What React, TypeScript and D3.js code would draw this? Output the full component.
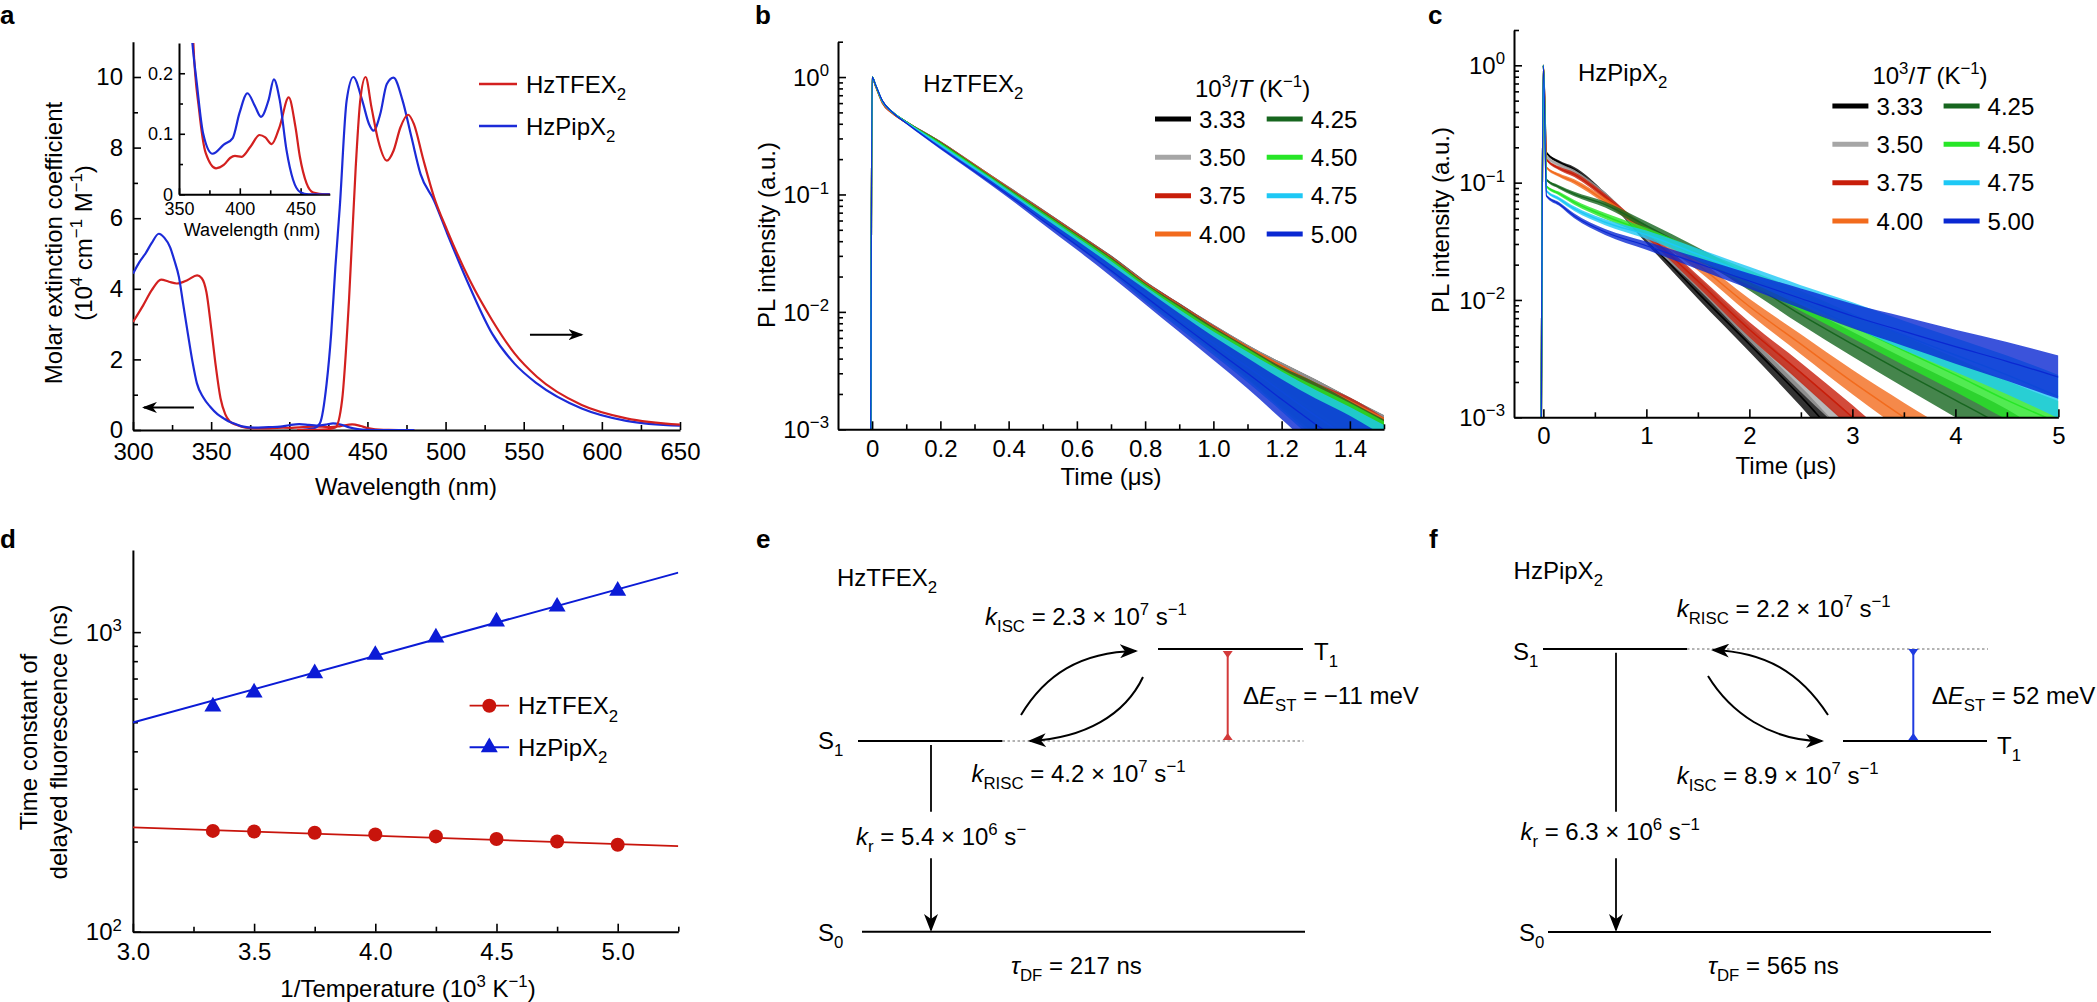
import React, { useEffect, useRef } from "react";
import * as d3 from "d3";

const W = 2097;
const H = 1002;
const FONT = '"Liberation Sans", Arial, Helvetica, sans-serif';
const FS = 24;
const RED = "#d3201f";
const BLUE = "#1c2bd8";

// ---------- a: absorption (10^4 M^-1 cm^-1) and emission (normalised, peak = 10)
const absTFEX: [number, number][] = [
  [300, 3.06], [306.5, 3.53], [312, 3.96], [318, 4.26], [323, 4.2], [328, 4.15],
  [335, 4.25], [341, 4.38], [344, 4.3], [347, 3.9], [350, 2.9], [353, 1.8],
  [356, 0.9], [359, 0.45], [361.8, 0.25], [366.5, 0.14], [372, 0.068], [380.5, 0.043],
  [386.8, 0.0485], [392, 0.06], [396, 0.0635], [401.5, 0.062], [408.9, 0.079],
  [416.2, 0.098], [421, 0.094], [426.2, 0.083], [432.8, 0.112], [440.2, 0.16],
  [445.7, 0.112], [449.4, 0.062], [454.9, 0.018], [460.4, 0.003], [470, 0], [480, 0],
];
const absPIP: [number, number][] = [
  [300, 4.43], [304, 4.75], [308, 5.0], [312, 5.3], [316.5, 5.56], [320, 5.45],
  [323.7, 5.18], [326.5, 4.8], [329.4, 4.33], [332, 3.6], [335.1, 2.73], [338, 1.95],
  [340.9, 1.32], [345, 0.92], [349.4, 0.66], [354, 0.45], [358, 0.33], [361, 0.25],
  [364.6, 0.184], [369.8, 0.101], [377.6, 0.067], [386.8, 0.082], [394.2, 0.093],
  [399.7, 0.134], [406.3, 0.167], [412.6, 0.145], [417.4, 0.128], [423.7, 0.156],
  [428, 0.19], [432.8, 0.156], [438.4, 0.073], [443.8, 0.024], [449.4, 0.004],
  [456.7, 0], [480, 0],
];
const emTFEX: [number, number][] = [
  [405, 0], [424, 0.02], [429.5, 0.07], [433.8, 0.85], [438.2, 3.67], [442.5, 7.44],
  [445.4, 9.33], [448.8, 10.0], [452.6, 9.14], [456.9, 8.2], [462.4, 7.63],
  [466.7, 7.91], [471.1, 8.57], [476, 8.93], [479.7, 8.67], [485.4, 7.72],
  [492.6, 6.6], [501.1, 5.65], [515.5, 4.24], [529.8, 3.11], [544.1, 2.17],
  [558.4, 1.51], [587.1, 0.71], [615.7, 0.33], [650, 0.15],
];
const emPIP: [number, number][] = [
  [405, 0], [416, 0.05], [419.6, 0.19], [423.9, 1.32], [426.8, 2.73], [429.5, 4.62],
  [432.3, 6.31], [436.7, 9.33], [441, 10.0], [446.7, 9.33], [451, 8.67], [453.9, 8.48],
  [458.2, 8.95], [462.4, 9.8], [466.7, 9.98], [472.5, 9.33], [478.2, 8.29], [484, 7.25],
  [492.6, 6.5], [501.1, 5.56], [515.5, 4.05], [529.8, 2.73], [544.1, 1.88],
  [558.4, 1.32], [587.1, 0.61], [615.7, 0.26], [650, 0.12],
];
// [wavelength, value] start and end of the two "which axis" arrows
const arrowsA = [
  { from: [339, 0.64], to: [307, 0.64] },
  { from: [554, 2.7], to: [587, 2.7] },
];

// ---------- b, c: transient PL
const tempLabels = ["3.33", "3.50", "3.75", "4.00", "4.25", "4.50", "4.75", "5.00"];
const tempColors = ["#000000", "#a6a6a6", "#c81e0a", "#f26b1d", "#17661f", "#27e627", "#1ec8f5", "#0a28d2"];

const timeB = [-0.004, 0, 0.01, 0.03, 0.06, 0.1, 0.2, 0.3, 0.4, 0.5, 0.6, 0.7, 0.8, 0.9, 1.0, 1.1, 1.2, 1.3, 1.4, 1.5];
const decayB = [
  [0.001, 1, 0.85, 0.62, 0.5, 0.415, 0.278, 0.176, 0.111, 0.07, 0.0435, 0.027, 0.0158, 0.0099, 0.0062, 0.0039, 0.0025, 0.0016, 0.001, 0.00063],
  [0.001, 1, 0.85, 0.62, 0.5, 0.415, 0.278, 0.176, 0.111, 0.0695, 0.0432, 0.0268, 0.0157, 0.0098, 0.0062, 0.0039, 0.0025, 0.0016, 0.001, 0.00063],
  [0.001, 1, 0.84, 0.6, 0.49, 0.41, 0.276, 0.175, 0.11, 0.069, 0.043, 0.0267, 0.0156, 0.0098, 0.0061, 0.0038, 0.0024, 0.0015, 0.001, 0.0006],
  [0.001, 1, 0.84, 0.61, 0.495, 0.412, 0.275, 0.174, 0.109, 0.068, 0.0425, 0.0263, 0.0154, 0.0096, 0.006, 0.0038, 0.0024, 0.0015, 0.00095, 0.0006],
  [0.001, 1, 0.85, 0.62, 0.5, 0.414, 0.274, 0.173, 0.108, 0.0675, 0.042, 0.026, 0.0152, 0.0095, 0.0059, 0.0037, 0.0023, 0.0015, 0.00093, 0.00058],
  [0.001, 1, 0.85, 0.62, 0.5, 0.413, 0.27, 0.17, 0.106, 0.066, 0.041, 0.0253, 0.0148, 0.0092, 0.0057, 0.0036, 0.0022, 0.0014, 0.0009, 0.00056],
  [0.001, 1, 0.86, 0.62, 0.5, 0.41, 0.262, 0.165, 0.103, 0.0635, 0.0395, 0.0242, 0.0142, 0.0087, 0.0054, 0.0034, 0.0021, 0.0013, 0.00083, 0.00052],
  [0.001, 1, 0.86, 0.63, 0.5, 0.405, 0.25, 0.157, 0.098, 0.06, 0.037, 0.0225, 0.0135, 0.0081, 0.0049, 0.003, 0.0018, 0.0011, 0.0007, 0.00042],
];
// half-width of the photon-counting noise band, in decades
const noiseB = [0, 0, 0, 0.004, 0.006, 0.008, 0.012, 0.016, 0.022, 0.03, 0.04, 0.05, 0.065, 0.08, 0.1, 0.13, 0.17, 0.22, 0.27, 0.32];

const timeC = [-0.02, 0, 0.03, 0.15, 0.3, 0.6, 1.0, 1.5, 2.0, 2.5, 3.0, 3.5, 4.0, 4.5, 5.0];
const decayC = [
  [0.001, 1, 0.18, 0.15, 0.13, 0.078, 0.033, 0.0115, 0.0042, 0.0015, 0.0005, 0.0002, 0.0001, 0.0001, 0.0001],
  [0.001, 1, 0.168, 0.142, 0.123, 0.078, 0.035, 0.014, 0.0052, 0.002, 0.0008, 0.0003, 0.0001, 0.0001, 0.0001],
  [0.001, 1, 0.158, 0.133, 0.117, 0.076, 0.037, 0.0145, 0.0056, 0.0024, 0.001, 0.0004, 0.0002, 0.0001, 0.0001],
  [0.001, 1, 0.135, 0.116, 0.102, 0.07, 0.04, 0.02, 0.0088, 0.0042, 0.002, 0.001, 0.0005, 0.0002, 0.0001],
  [0.001, 1, 0.106, 0.092, 0.08, 0.065, 0.043, 0.025, 0.014, 0.0075, 0.0042, 0.0024, 0.0014, 0.0008, 0.0004],
  [0.001, 1, 0.093, 0.081, 0.068, 0.052, 0.038, 0.024, 0.0155, 0.0098, 0.006, 0.0037, 0.0023, 0.0014, 0.0009],
  [0.001, 1, 0.085, 0.073, 0.06, 0.046, 0.036, 0.0245, 0.0165, 0.011, 0.0075, 0.005, 0.0034, 0.0023, 0.0015],
  [0.001, 1, 0.077, 0.066, 0.052, 0.038, 0.029, 0.0205, 0.0145, 0.0103, 0.0073, 0.0054, 0.004, 0.003, 0.0022],
];
const noiseC = [0, 0, 0.01, 0.015, 0.02, 0.025, 0.035, 0.05, 0.065, 0.085, 0.105, 0.125, 0.145, 0.165, 0.185];

// ---------- d: delayed-fluorescence lifetime vs 1/T
const invT = [3.33, 3.5, 3.75, 4.0, 4.25, 4.5, 4.75, 5.0];
const tauTFEX = [217, 216, 214, 211, 208, 204, 200, 195];
const tauPIP = [564, 628, 729, 839, 959, 1084, 1216, 1374];
const fitTFEX: [number, number][] = [[3.0, 223], [5.25, 193]];
const fitPIP: [number, number][] = [[3.0, 499], [5.25, 1580]];

// ---------- text helpers: _{sub} ^{sup} *italic*
type Seg = { t: string; sub?: boolean; sup?: boolean; it?: boolean };
function parse(s: string): Seg[] {
  return s
    .split(/(_\{[^}]*\}|\^\{[^}]*\}|\*[^*]*\*)/)
    .filter((p) => p)
    .map((p) => {
      if (p.startsWith("_{")) return { t: p.slice(2, -1), sub: true };
      if (p.startsWith("^{")) return { t: p.slice(2, -1), sup: true };
      if (p.startsWith("*")) return { t: p.slice(1, -1), it: true };
      return { t: p };
    });
}

function txt(g: any, x: number, cy: number, s: string, o: any = {}) {
  const fs = o.fs ?? FS;
  const t = g.append("text")
    .attr("font-family", FONT)
    .attr("font-size", fs)
    .attr("text-anchor", o.anchor ?? "start")
    .attr("fill", "#000")
    .style("white-space", "pre");
  if (o.weight) t.attr("font-weight", o.weight);
  if (o.rot) t.attr("transform", `translate(${x},${cy}) rotate(-90)`).attr("x", 0).attr("y", fs * 0.36);
  else t.attr("x", x).attr("y", cy + fs * 0.36);
  let shift = 0;
  parse(s).forEach((p) => {
    const target = p.sub ? fs * 0.3 : p.sup ? -fs * 0.4 : 0;
    const sp = t.append("tspan").attr("dy", target - shift).text(p.t);
    if (p.sub || p.sup) sp.attr("font-size", fs * 0.7);
    if (p.it) sp.attr("font-style", "italic");
    shift = target;
  });
  return t;
}

function axis(g: any, sc: any, orient: string, at: number, majors: number[], minors: number[], fmt: any, o: any = {}) {
  const fs = o.fs ?? FS;
  const maj = o.maj ?? 8;
  const min = o.min ?? 5;
  const pad = o.pad ?? 10;
  const mk = orient === "bottom" ? d3.axisBottom : d3.axisLeft;
  const tr = orient === "bottom" ? `translate(0,${at})` : `translate(${at},0)`;
  const a = g.append("g").attr("transform", tr)
    .call(mk(sc).tickValues(majors).tickSizeInner(-maj).tickSizeOuter(0).tickPadding(pad).tickFormat(fmt));
  a.select(".domain").attr("stroke-width", 2);
  a.selectAll(".tick line").attr("stroke-width", 1.6);
  a.selectAll(".tick text").attr("font-size", fs).attr("font-family", FONT).attr("fill", "#000");
  const m = g.append("g").attr("transform", tr)
    .call(mk(sc).tickValues(minors).tickSizeInner(-min).tickSizeOuter(0).tickFormat(() => ""));
  m.select(".domain").remove();
  m.selectAll(".tick line").attr("stroke-width", 1.6);
}

function logMinors(lo: number, hi: number) {
  const out: number[] = [];
  for (let e = Math.floor(Math.log10(lo)); e <= Math.ceil(Math.log10(hi)); e++)
    for (let m = 2; m <= 9; m++) {
      const v = m * 10 ** e;
      if (v > lo && v <= hi) out.push(v);
    }
  return out;
}

function logLabels(g: any, sc: any, at: number, vals: number[], pad: number) {
  vals.forEach((v) => {
    const e = Math.round(Math.log10(v));
    txt(g, at - pad, sc(v), `10^{${e < 0 ? "\u2212" + -e : e}}`, { anchor: "end" });
  });
}

function clip(defs: any, id: string, x0: number, y0: number, x1: number, y1: number) {
  defs.append("clipPath").attr("id", id).append("rect")
    .attr("x", x0).attr("y", y0).attr("width", x1 - x0).attr("height", y1 - y0);
}

function decays(g: any, xs: any, ys: any, times: number[], series: number[][], noise: number[], clipId: string) {
  const gg = g.append("g").attr("clip-path", `url(#${clipId})`);
  series.forEach((vals, i) => {
    const pts = times.map((t, j) => ({ t, v: vals[j], n: noise[j] }));
    const band = d3.area<any>()
      .x((d) => xs(d.t))
      .y0((d) => ys(d.v / 10 ** d.n))
      .y1((d) => ys(d.v * 10 ** d.n))
      .curve(d3.curveMonotoneX);
    gg.append("path").attr("d", band(pts)).attr("fill", tempColors[i]).attr("opacity", 0.8);
    const line = d3.line<any>().x((d) => xs(d.t)).y((d) => ys(d.v)).curve(d3.curveMonotoneX);
    gg.append("path").attr("d", line(pts)).attr("fill", "none")
      .attr("stroke", tempColors[i]).attr("stroke-width", i === 7 ? 1.2 : 1.5);
  });
}

function tempLegend(g: any, x0: number, colGap: number, titleY: number, rowY: number[]) {
  txt(g, x0 + 40, titleY, "10^{3}/*T* (K^{\u22121})");
  tempLabels.forEach((lab, i) => {
    const col = Math.floor(i / 4);
    const x = x0 + col * colGap;
    const y = rowY[i % 4];
    g.append("line").attr("x1", x).attr("x2", x + 36).attr("y1", y).attr("y2", y)
      .attr("stroke", tempColors[i]).attr("stroke-width", 5);
    txt(g, x + 44, y, lab);
  });
}

export default function App() {
  const ref = useRef<SVGSVGElement | null>(null);

  useEffect(() => {
    const svg = d3.select(ref.current);
    svg.selectAll("*").remove();
    const defs = svg.append("defs");

    const marker = (id: string, w: number, h: number) =>
      defs.append("marker").attr("id", id)
        .attr("viewBox", `0 0 ${w} ${h}`).attr("markerWidth", w).attr("markerHeight", h)
        .attr("refX", w - 2).attr("refY", h / 2).attr("orient", "auto").attr("markerUnits", "userSpaceOnUse")
        .append("path").attr("d", `M0,0 L${w},${h / 2} L0,${h} L${w * 0.28},${h / 2} Z`).attr("fill", "#000");
    marker("ah", 18, 14);
    marker("ahS", 15, 11);

    // panel letters
    [["a", 0, 24], ["b", 755, 24], ["c", 1428, 24], ["d", 0, 548], ["e", 756, 548], ["f", 1429, 548]].forEach(
      ([l, x, y]: any) =>
        svg.append("text").attr("x", x).attr("y", y).attr("font-family", FONT)
          .attr("font-size", 26).attr("font-weight", "bold").text(l)
    );

    // ================= a
    const gA = svg.append("g");
    const xA = d3.scaleLinear().domain([300, 650]).range([133, 680]);
    const yA = d3.scaleLinear().domain([0, 11]).range([430, 41.7]);
    clip(defs, "clipA", 133, 41.7, 680, 430);
    axis(gA, xA, "bottom", 430, d3.range(300, 651, 50), d3.range(325, 650, 50), d3.format("d"), { pad: 13 });
    axis(gA, yA, "left", 133, d3.range(0, 11, 2), [1, 3, 5, 7, 9], d3.format("d"), { pad: 10 });
    const lineA = d3.line<[number, number]>().x((d) => xA(d[0])).y((d) => yA(d[1])).curve(d3.curveMonotoneX);
    const pA = gA.append("g").attr("clip-path", "url(#clipA)");
    [[absTFEX, RED], [absPIP, BLUE], [emPIP, BLUE], [emTFEX, RED]].forEach(([d, c]: any) =>
      pA.append("path").attr("d", lineA(d)).attr("fill", "none").attr("stroke", c).attr("stroke-width", 2.2)
    );
    arrowsA.forEach((a) =>
      gA.append("line")
        .attr("x1", xA(a.from[0])).attr("y1", yA(a.from[1]))
        .attr("x2", xA(a.to[0])).attr("y2", yA(a.to[1]))
        .attr("stroke", "#000").attr("stroke-width", 2).attr("marker-end", "url(#ahS)")
    );
    txt(gA, 406, 486.7, "Wavelength (nm)", { anchor: "middle" });
    txt(gA, 53, 243, "Molar extinction coefficient", { anchor: "middle", rot: true });
    txt(gA, 83, 243, "(10^{4} cm^{\u22121} M^{\u22121})", { anchor: "middle", rot: true });
    [["HzTFEX_{2}", RED, 84], ["HzPipX_{2}", BLUE, 126]].forEach(([l, c, y]: any) => {
      gA.append("line").attr("x1", 479).attr("x2", 517).attr("y1", y).attr("y2", y)
        .attr("stroke", c).attr("stroke-width", 2.5);
      txt(gA, 526, y, l);
    });

    // inset
    const xI = d3.scaleLinear().domain([350, 474]).range([179, 329.8]);
    const yI = d3.scaleLinear().domain([0, 0.25]).range([194.3, 43]);
    clip(defs, "clipI", 179, 43, 329.8, 194.3);
    const iopt = { fs: 18, maj: 6, min: 4 };
    axis(gA, xI, "bottom", 194.3, [350, 400, 450], [375, 425], d3.format("d"), { ...iopt, pad: 8 });
    axis(gA, yI, "left", 179, [0, 0.1, 0.2], [0.05, 0.15], (d: number) => (d === 0 ? "0" : d3.format(".1f")(d)), { ...iopt, pad: 6 });
    const lineI = d3.line<[number, number]>().x((d) => xI(d[0])).y((d) => yI(d[1])).curve(d3.curveMonotoneX);
    const pI = gA.append("g").attr("clip-path", "url(#clipI)");
    [[absTFEX, RED], [absPIP, BLUE]].forEach(([d, c]: any) =>
      pI.append("path").attr("d", lineI(d)).attr("fill", "none").attr("stroke", c).attr("stroke-width", 2.2)
    );
    txt(gA, 252, 230, "Wavelength (nm)", { anchor: "middle", fs: 18 });

    // ================= b
    const gB = svg.append("g");
    const xB = d3.scaleLinear().domain([-0.1, 1.5]).range([838, 1384]);
    const yB = d3.scaleLog().domain([1e-3, 2]).range([429.3, 41.7]);
    clip(defs, "clipB", 838, 41.7, 1384, 429.3);
    decays(gB, xB, yB, timeB, decayB, noiseB, "clipB");
    axis(gB, xB, "bottom", 429.3, d3.range(0, 1.41, 0.2), d3.range(0.1, 1.51, 0.2),
      (d: number) => (Math.abs(d) < 1e-9 ? "0" : d3.format(".1f")(d)), { pad: 11 });
    axis(gB, yB, "left", 838, [1e-3, 1e-2, 1e-1, 1], logMinors(1e-3, 2), () => "", { pad: 9 });
    logLabels(gB, yB, 838, [1e-3, 1e-2, 1e-1, 1], 9);
    txt(gB, 1111, 476.7, "Time (\u03bcs)", { anchor: "middle" });
    txt(gB, 766.7, 235, "PL intensity (a.u.)", { anchor: "middle", rot: true });
    txt(gB, 923.3, 83.3, "HzTFEX_{2}");
    tempLegend(gB, 1155, 111.7, 88, [119, 157.3, 195.7, 234]);

    // ================= c
    const gC = svg.append("g");
    const xC = d3.scaleLinear().domain([-0.285, 5]).range([1514, 2058.4]);
    const yC = d3.scaleLog().domain([1e-3, 2]).range([417.3, 30]);
    clip(defs, "clipC", 1514, 30, 2058.4, 417.3);
    decays(gC, xC, yC, timeC, decayC, noiseC, "clipC");
    axis(gC, xC, "bottom", 417.3, d3.range(0, 6, 1), d3.range(0.5, 5, 1), d3.format("d"), { pad: 10 });
    axis(gC, yC, "left", 1514, [1e-3, 1e-2, 1e-1, 1], logMinors(1e-3, 2), () => "", { pad: 9 });
    logLabels(gC, yC, 1514, [1e-3, 1e-2, 1e-1, 1], 9);
    txt(gC, 1786, 465, "Time (\u03bcs)", { anchor: "middle" });
    txt(gC, 1440, 220, "PL intensity (a.u.)", { anchor: "middle", rot: true });
    txt(gC, 1578, 72, "HzPipX_{2}");
    tempLegend(gC, 1832.4, 111.2, 75, [106, 144.3, 182.7, 221]);

    // ================= d
    const gD = svg.append("g");
    const xD = d3.scaleLinear().domain([3, 5.25]).range([132.9, 678.3]);
    const yD = d3.scaleLog().domain([100, 1880]).range([931.7, 550]);
    clip(defs, "clipD", 132.9, 550, 678.3, 931.7);
    axis(gD, xD, "bottom", 931.7, [3, 3.5, 4, 4.5, 5], [3.25, 3.75, 4.25, 4.75, 5.25], d3.format(".1f"), { pad: 11 });
    axis(gD, yD, "left", 132.9, [100, 1000], logMinors(100, 1880), () => "", { pad: 11 });
    logLabels(gD, yD, 132.9, [100, 1000], 11);
    const RD = "#c8140c";
    const BD = "#0b1bd6";
    const lineD = d3.line<[number, number]>().x((d) => xD(d[0])).y((d) => yD(d[1]));
    const pD = gD.append("g").attr("clip-path", "url(#clipD)");
    pD.append("path").attr("d", lineD(fitTFEX)).attr("stroke", RD).attr("stroke-width", 1.8).attr("fill", "none");
    pD.append("path").attr("d", lineD(fitPIP)).attr("stroke", BD).attr("stroke-width", 2).attr("fill", "none");
    const tri = d3.symbol().type(d3.symbolTriangle).size(125);
    invT.forEach((x, i) => {
      gD.append("circle").attr("cx", xD(x)).attr("cy", yD(tauTFEX[i])).attr("r", 7).attr("fill", RD);
      gD.append("path").attr("d", tri()).attr("transform", `translate(${xD(x)},${yD(tauPIP[i])})`).attr("fill", BD);
    });
    gD.append("line").attr("x1", 469.6).attr("x2", 509).attr("y1", 705.7).attr("y2", 705.7).attr("stroke", RD).attr("stroke-width", 1.8);
    gD.append("circle").attr("cx", 489.3).attr("cy", 705.7).attr("r", 7).attr("fill", RD);
    txt(gD, 518, 705.7, "HzTFEX_{2}");
    gD.append("line").attr("x1", 469.6).attr("x2", 509).attr("y1", 747.3).attr("y2", 747.3).attr("stroke", BD).attr("stroke-width", 2);
    gD.append("path").attr("d", tri()).attr("transform", "translate(489.3,747.3)").attr("fill", BD);
    txt(gD, 518, 747.3, "HzPipX_{2}");
    txt(gD, 408, 988, "1/Temperature (10^{3} K^{\u22121})", { anchor: "middle" });
    txt(gD, 28.6, 742, "Time constant of", { anchor: "middle", rot: true });
    txt(gD, 58.5, 742, "delayed fluorescence (ns)", { anchor: "middle", rot: true });

    // ================= e, f : energy level diagrams
    const level = (g: any, x1: number, x2: number, y: number, dotted = false) =>
      g.append("line").attr("x1", x1).attr("x2", x2).attr("y1", y).attr("y2", y)
        .attr("stroke", dotted ? "#9a9a9a" : "#000").attr("stroke-width", dotted ? 1.6 : 2)
        .attr("stroke-dasharray", dotted ? "2.5,2.5" : null);
    const vArrow = (g: any, x: number, y0: number, y1: number, y2: number, y3: number) => {
      g.append("line").attr("x1", x).attr("x2", x).attr("y1", y0).attr("y2", y1).attr("stroke", "#000").attr("stroke-width", 1.8);
      g.append("line").attr("x1", x).attr("x2", x).attr("y1", y2).attr("y2", y3)
        .attr("stroke", "#000").attr("stroke-width", 1.8).attr("marker-end", "url(#ah)");
    };
    const curve = (g: any, p: number[]) => {
      const path = d3.path();
      path.moveTo(p[0], p[1]);
      path.bezierCurveTo(p[2], p[3], p[4], p[5], p[6], p[7]);
      g.append("path").attr("d", path.toString()).attr("fill", "none").attr("stroke", "#000")
        .attr("stroke-width", 2).attr("marker-end", "url(#ah)");
    };
    const gap = (g: any, x: number, yTop: number, yBot: number, c: string) => {
      g.append("line").attr("x1", x).attr("x2", x).attr("y1", yTop).attr("y2", yBot).attr("stroke", c).attr("stroke-width", 2);
      g.append("path").attr("d", `M${x - 5},${yTop} L${x + 5},${yTop} L${x},${yTop + 7} Z`).attr("fill", c);
      g.append("path").attr("d", `M${x - 5},${yBot} L${x + 5},${yBot} L${x},${yBot - 7} Z`).attr("fill", c);
    };

    const gE = svg.append("g");
    txt(gE, 837, 577, "HzTFEX_{2}");
    level(gE, 858, 1002.5, 741);
    level(gE, 1002.5, 1303.5, 741, true);
    level(gE, 1158, 1303, 649);
    level(gE, 862, 1305, 931.7);
    txt(gE, 818, 740, "S_{1}");
    txt(gE, 1314, 651, "T_{1}");
    txt(gE, 818, 932, "S_{0}");
    vArrow(gE, 931, 745, 811.7, 858.3, 930);
    txt(gE, 856, 836, "*k*_{r} = 5.4 \u00d7 10^{6} s^{\u2212}");
    curve(gE, [1021, 715, 1045, 675, 1080, 652, 1136, 651]);
    curve(gE, [1143, 677, 1125, 715, 1085, 738, 1030, 741]);
    txt(gE, 985, 616, "*k*_{ISC} = 2.3 \u00d7 10^{7} s^{\u22121}");
    txt(gE, 971.5, 773, "*k*_{RISC} = 4.2 \u00d7 10^{7} s^{\u22121}");
    gap(gE, 1227.7, 651, 740, "#d33a3a");
    txt(gE, 1243, 695, "\u0394*E*_{ST} = \u221211 meV");
    txt(gE, 1011, 965, "*\u03c4*_{DF} = 217 ns");

    const gF = svg.append("g");
    txt(gF, 1513.6, 570, "HzPipX_{2}");
    level(gF, 1543, 1687, 649);
    level(gF, 1687, 1988, 649, true);
    level(gF, 1843, 1987, 741);
    level(gF, 1548, 1991, 932);
    txt(gF, 1513, 651, "S_{1}");
    txt(gF, 1997, 745, "T_{1}");
    txt(gF, 1519, 932, "S_{0}");
    vArrow(gF, 1616, 652.7, 811.7, 858.3, 930);
    txt(gF, 1520.4, 831, "*k*_{r} = 6.3 \u00d7 10^{6} s^{\u22121}");
    curve(gF, [1828, 715, 1800, 672, 1765, 652, 1713, 650]);
    curve(gF, [1708, 676, 1730, 712, 1770, 741, 1822, 741]);
    txt(gF, 1676.7, 608, "*k*_{RISC} = 2.2 \u00d7 10^{7} s^{\u22121}");
    txt(gF, 1676.7, 775, "*k*_{ISC} = 8.9 \u00d7 10^{7} s^{\u22121}");
    gap(gF, 1913.3, 649, 740, "#1f3be0");
    txt(gF, 1931.7, 695, "\u0394*E*_{ST} = 52 meV");
    txt(gF, 1708, 965, "*\u03c4*_{DF} = 565 ns");
  }, []);

  return (
    <svg
      ref={ref}
      width={W}
      height={H}
      style={{ position: "absolute", left: 0, top: 0, background: "#fff" }}
    />
  );
}
